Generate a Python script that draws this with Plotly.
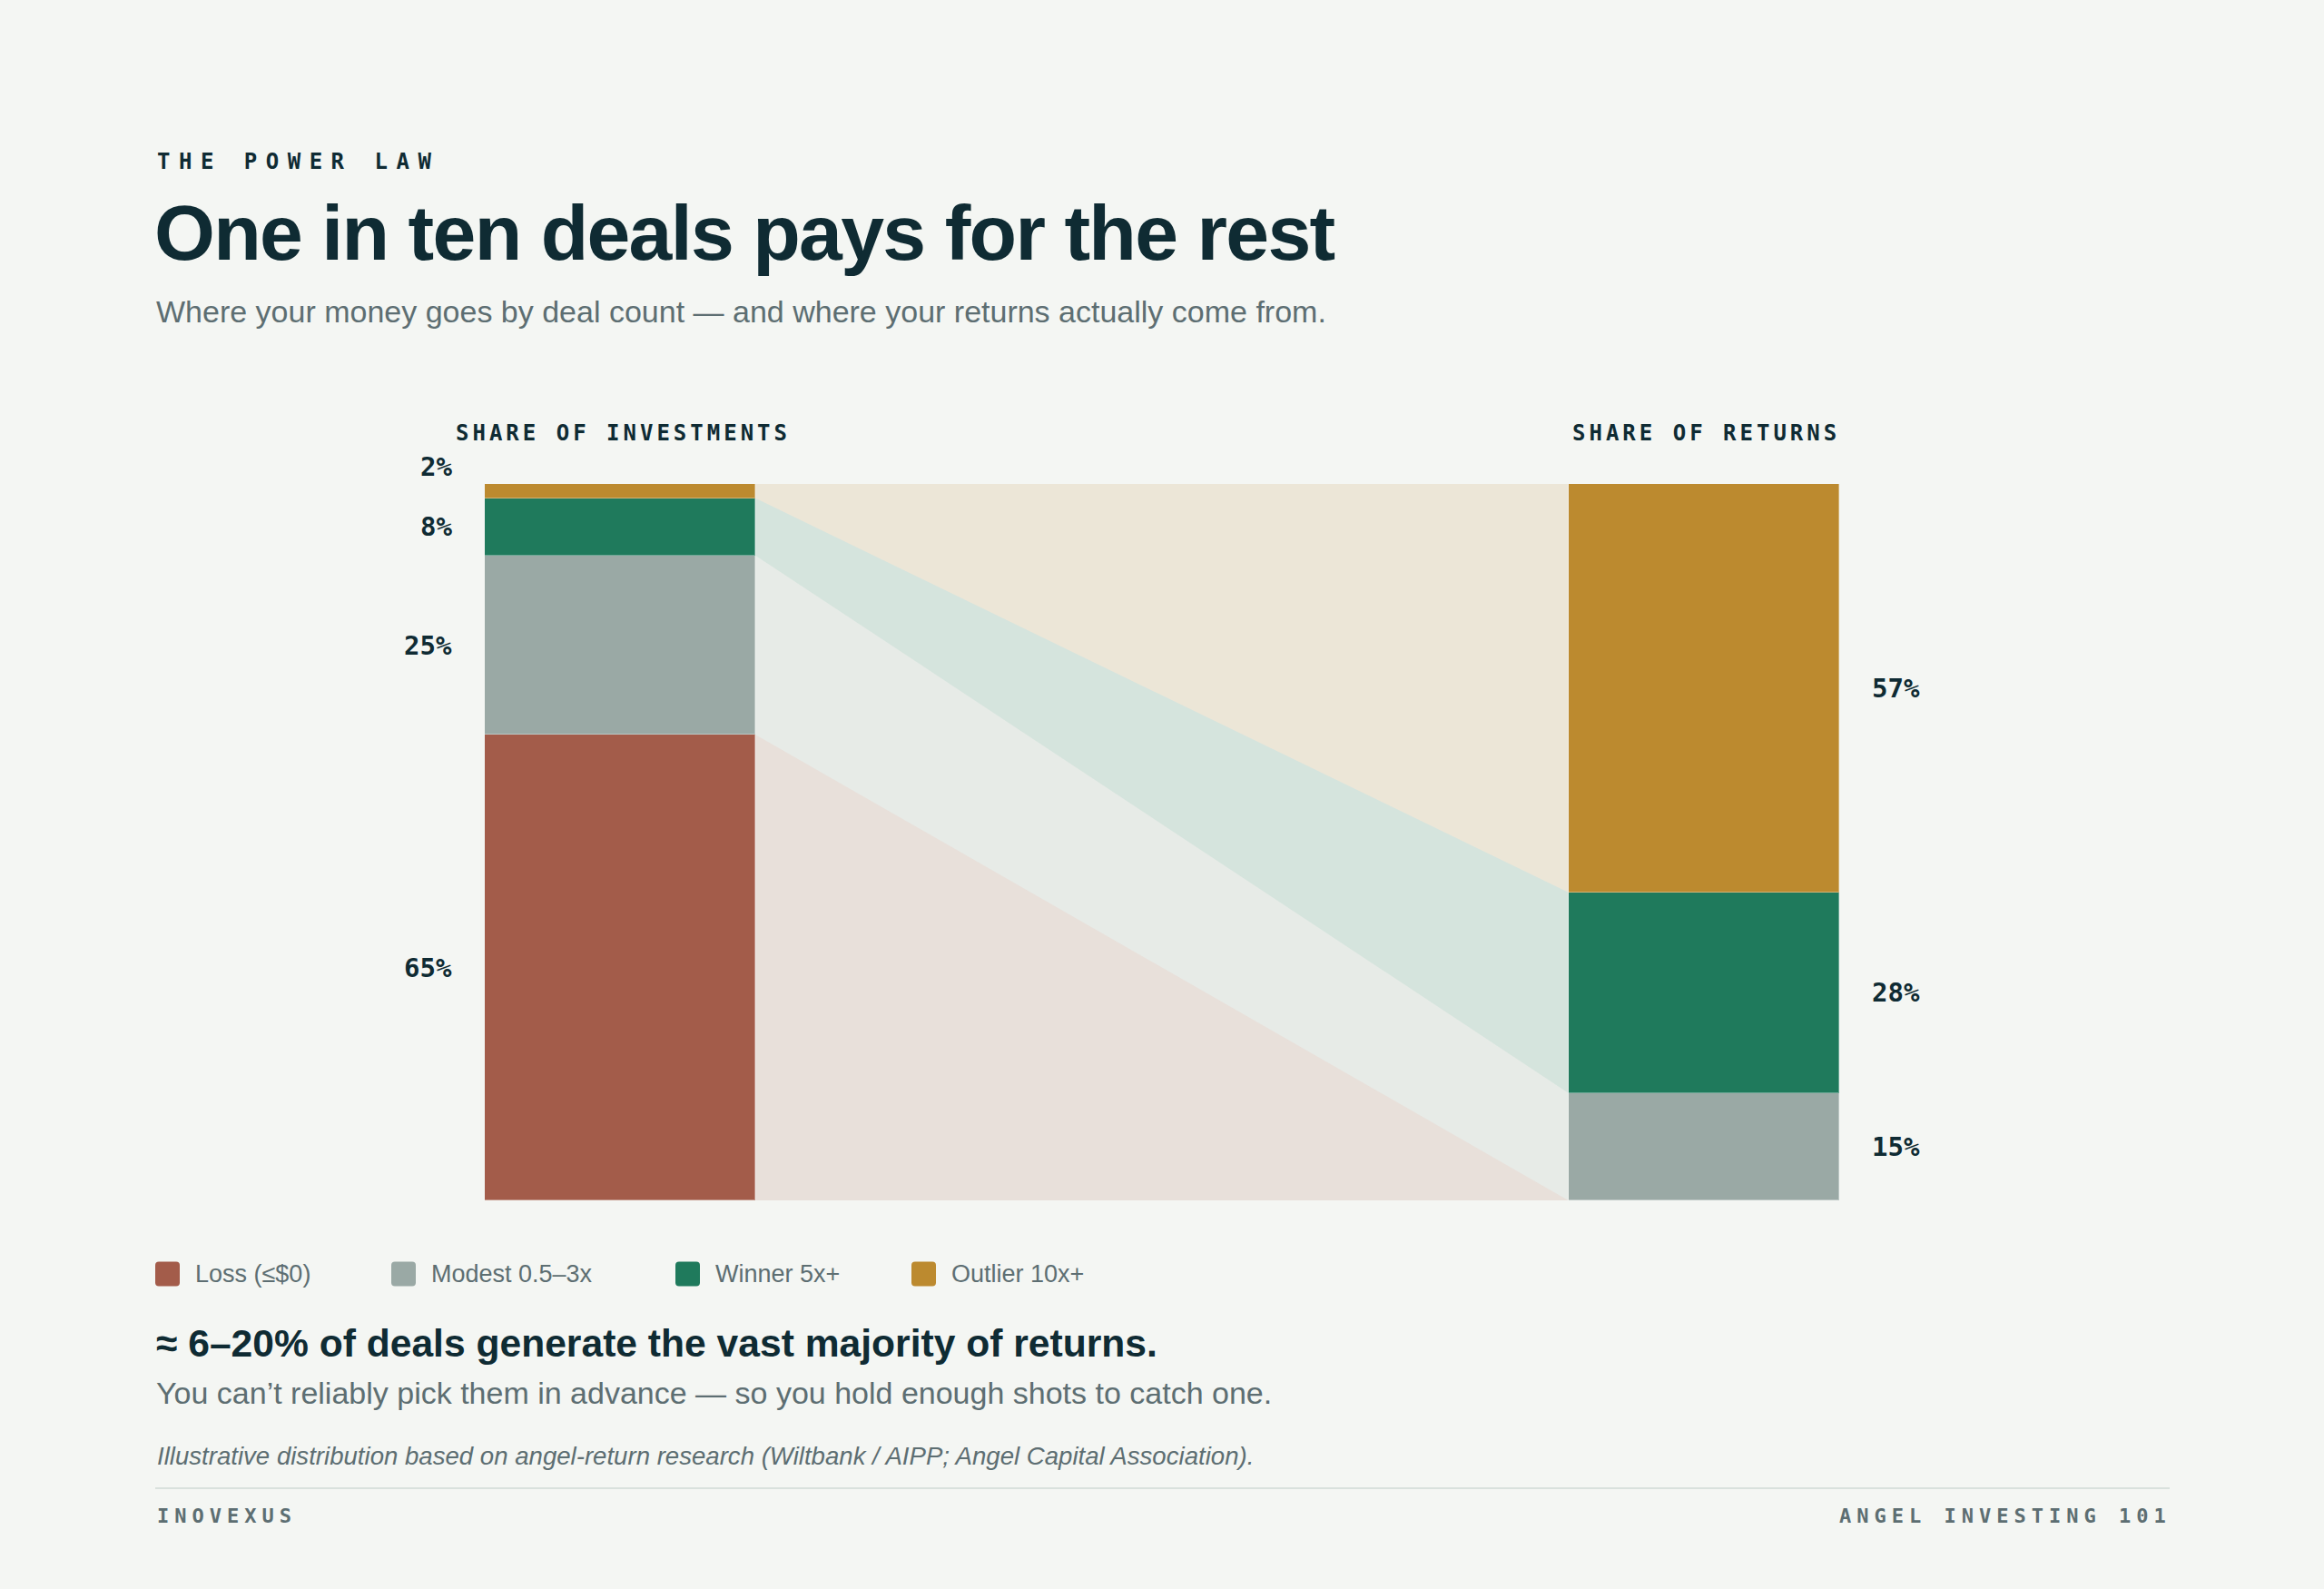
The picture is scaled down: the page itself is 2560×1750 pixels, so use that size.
import plotly.graph_objects as go

# ---------------- data ----------------
categories = ["Loss (≤$0)", "Modest 0.5–3x", "Winner 5x+", "Outlier 10x+"]
share_investments = [65, 25, 8, 2]   # % of deals (bottom -> top)
share_returns = [0, 15, 28, 57]      # % of returns (bottom -> top)
column_labels = ["SHARE OF INVESTMENTS", "SHARE OF RETURNS"]

# ---------------- style ----------------
W, H = 2560, 1750
BG = "#f4f6f3"
DARK = "#0f2b33"
GRAY = "#5d6e72"
colors = ["#a35c4a", "#9aa9a5", "#1f7a5c", "#bc8a2f"]
FLOW_ALPHA = 0.14
SANS = "Liberation Sans, Arial, Helvetica, sans-serif"
MONO = "DejaVu Sans Mono, monospace"

col_x = [0.1, 0.9]
bar_w = 0.2
X_DOM = [534 / W, 2026 / W]
Y_DOM = [1 - 1322 / H, 1 - 533 / H]
Y_MAX = 100


def px(x):
    return x / W


def py(y):
    return 1 - y / H


def y_to_paper(v):
    return Y_DOM[0] + (v / Y_MAX) * (Y_DOM[1] - Y_DOM[0])


def rgba(hex_c, a):
    h = hex_c.lstrip("#")
    r, g, b = int(h[0:2], 16), int(h[2:4], 16), int(h[4:6], 16)
    return f"rgba({r},{g},{b},{a})"


def spaced(text, ls):
    return f'<span style="letter-spacing:{ls}px">{text}</span>'


fig = go.Figure()

# ---------------- flows ----------------
def cum(vals):
    out, s = [], 0
    for v in vals:
        out.append((s, s + v))
        s += v
    return out

left_c = cum(share_investments)
right_c = cum(share_returns)
xl = col_x[0] + bar_w / 2
xr = col_x[1] - bar_w / 2
for i, cat in enumerate(categories):
    (lb, lt), (rb, rt) = left_c[i], right_c[i]
    fig.add_trace(go.Scatter(
        x=[xl, xr, xr, xl, xl], y=[lb, rb, rt, lt, lb],
        fill="toself", fillcolor=rgba(colors[i], FLOW_ALPHA),
        line=dict(width=0), mode="lines", hoverinfo="skip", showlegend=False))

# ---------------- bars ----------------
for i, cat in enumerate(categories):
    fig.add_trace(go.Bar(
        x=col_x, y=[share_investments[i], share_returns[i]], width=bar_w,
        name=cat, marker=dict(color=colors[i], line=dict(width=1, color="rgba(255,255,255,0.35)")),
        showlegend=False, hoverinfo="skip"))

# ---------------- value labels ----------------
MIN_GAP = 8.4
annotations = []
for side, (vals, cums) in enumerate([(share_investments, left_c), (share_returns, right_c)]):
    prev = None
    for i, v in enumerate(vals):
        if v <= 0:
            continue
        yc = (cums[i][0] + cums[i][1]) / 2
        if prev is not None and yc < prev + MIN_GAP:
            yc = prev + MIN_GAP
        prev = yc
        annotations.append(dict(
            x=col_x[side] + (-bar_w / 2 if side == 0 else bar_w / 2), xref="x",
            y=y_to_paper(yc), yref="paper", text=f"<b>{v}%</b>", showarrow=False,
            xanchor="right" if side == 0 else "left",
            xshift=-34 if side == 0 else 34, yanchor="middle",
            font=dict(family=MONO, size=29, color=DARK)))

# column headers
annotations.append(dict(x=px(500), y=py(477), xref="paper", yref="paper",
                        text="<b>" + spaced(column_labels[0], 4) + "</b>", showarrow=False,
                        xanchor="left", yanchor="middle",
                        font=dict(family=MONO, size=24, color=DARK)))
annotations.append(dict(x=px(2029), y=py(477), xref="paper", yref="paper",
                        text="<b>" + spaced(column_labels[1], 4) + "</b>", showarrow=False,
                        xanchor="right", yanchor="middle",
                        font=dict(family=MONO, size=24, color=DARK)))

# ---------------- header text ----------------
annotations += [
    dict(x=px(171), y=py(178), text="<b>" + spaced("THE POWER LAW", 9.5) + "</b>",
         font=dict(family=MONO, size=24, color=DARK)),
    dict(x=px(168), y=py(256), text="<b>" + spaced("One in ten deals pays for the rest", -1.7) + "</b>",
         font=dict(family=SANS, size=86, color=DARK)),
    dict(x=px(170), y=py(343),
         text="Where your money goes by deal count — and where your returns actually come from.",
         font=dict(family=SANS, size=34, color=GRAY)),
    dict(x=px(170), y=py(1479), text="<b>≈ 6–20% of deals generate the vast majority of returns.</b>",
         font=dict(family=SANS, size=42.6, color=DARK)),
    dict(x=px(170), y=py(1534),
         text="You can’t reliably pick them in advance — so you hold enough shots to catch one.",
         font=dict(family=SANS, size=34, color=GRAY)),
    dict(x=px(171), y=py(1603),
         text="<i>Illustrative distribution based on angel-return research (Wiltbank / AIPP; Angel Capital Association).</i>",
         font=dict(family=SANS, size=27.6, color=GRAY)),
    dict(x=px(171), y=py(1669), text="<b>" + spaced("INOVEXUS", 6) + "</b>",
         font=dict(family=MONO, size=22, color=GRAY)),
]
for a in annotations[-7:]:
    a.update(xref="paper", yref="paper", xanchor="left", yanchor="middle", showarrow=False)
annotations.append(dict(x=px(2394), y=py(1669), xref="paper", yref="paper",
                        text="<b>" + spaced("ANGEL INVESTING 101", 6) + "</b>", showarrow=False,
                        xanchor="right", yanchor="middle",
                        font=dict(family=MONO, size=22, color=GRAY)))

# ---------------- legend ----------------
legend_x = [171, 431, 744, 1004]
SW = 27
LEG_Y = 1403
shapes = []
r = 4
for i, cat in enumerate(categories):
    x0, x1 = legend_x[i], legend_x[i] + SW
    y0, y1 = LEG_Y - SW / 2, LEG_Y + SW / 2
    path = (f"M {px(x0 + r)} {py(y0)} L {px(x1 - r)} {py(y0)} Q {px(x1)} {py(y0)} {px(x1)} {py(y0 + r)} "
            f"L {px(x1)} {py(y1 - r)} Q {px(x1)} {py(y1)} {px(x1 - r)} {py(y1)} "
            f"L {px(x0 + r)} {py(y1)} Q {px(x0)} {py(y1)} {px(x0)} {py(y1 - r)} "
            f"L {px(x0)} {py(y0 + r)} Q {px(x0)} {py(y0)} {px(x0 + r)} {py(y0)} Z")
    shapes.append(dict(type="path", path=path, xref="paper", yref="paper",
                       fillcolor=colors[i], line=dict(width=0)))
    annotations.append(dict(x=px(x1 + 15), y=py(LEG_Y), xref="paper", yref="paper",
                            text=cat, showarrow=False, xanchor="left", yanchor="middle",
                            font=dict(family=SANS, size=27, color=GRAY)))

# divider
shapes.append(dict(type="line", xref="paper", yref="paper", x0=px(171), x1=px(2390),
                   y0=py(1639), y1=py(1639), line=dict(color="#d9e1dd", width=2)))

fig.update_layout(
    width=W, height=H, autosize=False,
    margin=dict(l=0, r=0, t=0, b=0),
    paper_bgcolor=BG, plot_bgcolor=BG,
    barmode="stack", bargap=0,
    showlegend=False,
    xaxis=dict(domain=X_DOM, range=[0, 1], visible=False, fixedrange=True),
    yaxis=dict(domain=Y_DOM, range=[0, Y_MAX], visible=False, fixedrange=True),
    annotations=annotations, shapes=shapes,
)

fig.write_html("out.html", config={"displayModeBar": False},
               post_script="document.body.style.margin='0';document.body.style.overflow='hidden';")
